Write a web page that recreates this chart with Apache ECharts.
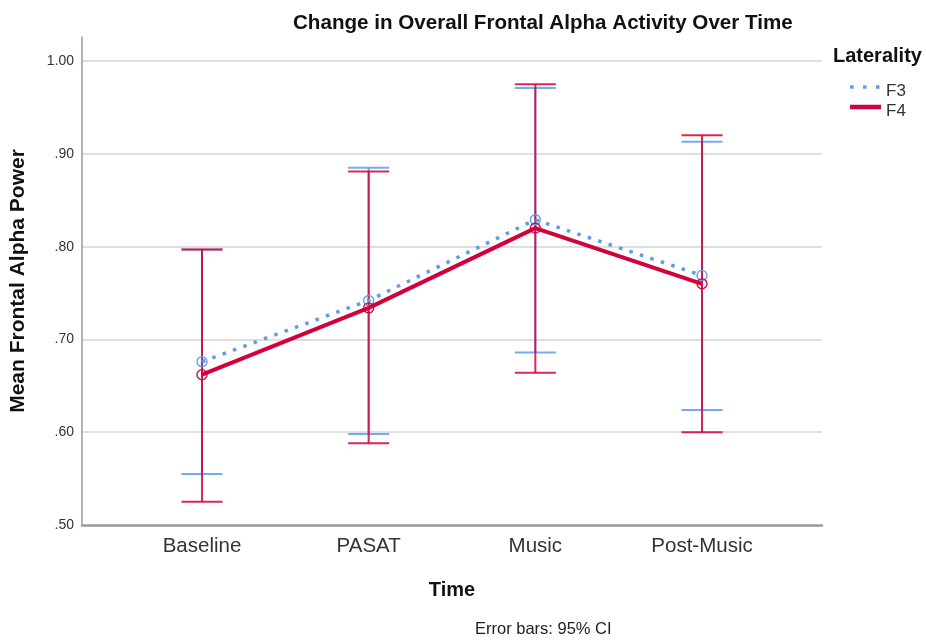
<!DOCTYPE html>
<html>
<head>
<meta charset="utf-8">
<title>Change in Overall Frontal Alpha Activity Over Time</title>
<script src="https://cdn.jsdelivr.net/npm/echarts@6/dist/echarts.min.js"></script>
<style>
  html, body { margin: 0; padding: 0; background: #fff; }
  #chart { width: 926px; height: 640px; }
</style>
</head>
<body>
<div id="chart"></div>
<script>
// categories on the x axis
const categories = ['Baseline', 'PASAT', 'Music', 'Post-Music']
const xPositions = [0, 1, 2, 3]
// y tick values
const yTicks = [0.5, 0.6, 0.7, 0.8, 0.9, 1.0]

// means
const f3Mean = [0.676, 0.742, 0.829, 0.769]
const f4Mean = [0.662, 0.734, 0.820, 0.760]
// 95% CI bounds
const f3Low = [0.555, 0.598, 0.686, 0.624]
const f3High = [0.797, 0.885, 0.971, 0.913]
const f4Low = [0.525, 0.588, 0.664, 0.600]
const f4High = [0.797, 0.881, 0.975, 0.920]

const colors = {
  f3: '#5d9ce6',
  f4: '#d4003c',
  grid: '#d4d4d4',
  axis: '#9a9a9a'
}

const font = '"Liberation Sans", Arial, sans-serif'

// error bar renderer (vertical line + caps)
const errorBar = (color) => (params, api) => {
  const x = api.value(0)
  const lo = api.coord([x, api.value(1)])
  const hi = api.coord([x, api.value(2)])
  const half = 20.5
  const style = { stroke: color, lineWidth: 2, opacity: 0.85 }
  return {
    type: 'group',
    children: [
      { type: 'line', shape: { x1: lo[0], y1: lo[1], x2: hi[0], y2: hi[1] }, style },
      { type: 'line', shape: { x1: lo[0] - half, y1: lo[1], x2: lo[0] + half, y2: lo[1] }, style },
      { type: 'line', shape: { x1: hi[0] - half, y1: hi[1], x2: hi[0] + half, y2: hi[1] }, style }
    ]
  }
}

const chart = echarts.init(document.getElementById('chart'))

const option = {
  backgroundColor: '#fff',
  animation: false,
  textStyle: { fontFamily: font },
  title: {
    text: 'Change in Overall Frontal Alpha Activity Over Time',
    left: 288,
    top: 8,
    textStyle: { fontSize: 20.6, fontWeight: 'bold', color: '#111', fontFamily: font }
  },
  grid: { left: 82, right: 104, top: 37, bottom: 115, outerBoundsMode: 'none', containLabel: false },
  xAxis: {
    type: 'value',
    min: -0.72,
    max: 3.72,
    name: 'Time',
    nameLocation: 'middle',
    nameGap: 55,
    nameTextStyle: { fontSize: 20, fontWeight: 'bold', color: '#111', fontFamily: font },
    axisLine: { show: true, onZero: false, lineStyle: { color: colors.axis, width: 2.5 } },
    axisTick: { show: false },
    splitLine: { show: false },
    axisLabel: {
      customValues: xPositions,
      formatter: (v) => categories[Math.round(v)],
      fontSize: 20.5,
      color: '#333',
      margin: 11,
      fontFamily: font
    }
  },
  yAxis: {
    type: 'value',
    min: 0.5,
    max: 1.026,
    interval: 0.1,
    name: 'Mean Frontal Alpha Power',
    nameLocation: 'middle',
    nameGap: 53,
    nameTextStyle: { fontSize: 21, fontWeight: 'bold', color: '#111', fontFamily: font },
    axisLine: { show: true, onZero: false, lineStyle: { color: colors.axis, width: 1.5 } },
    axisTick: { show: false },
    splitLine: { show: true, showMaxLine: false, showMinLine: false, lineStyle: { color: colors.grid, width: 1.5 } },
    axisLabel: {
      customValues: yTicks,
      formatter: (v) => v >= 1 ? v.toFixed(2) : v.toFixed(2).replace(/^0/, ''),
      fontSize: 14,
      color: '#333',
      margin: 8,
      fontFamily: font
    }
  },
  series: [
    {
      name: 'F3 CI',
      type: 'custom',
      renderItem: errorBar(colors.f3),
      data: xPositions.map((x, i) => [x, f3Low[i], f3High[i]]),
      z: 2
    },
    {
      name: 'F4 CI',
      type: 'custom',
      renderItem: errorBar(colors.f4),
      data: xPositions.map((x, i) => [x, f4Low[i], f4High[i]]),
      z: 3
    },
    {
      name: 'F3',
      type: 'line',
      data: xPositions.map((x, i) => [x, f3Mean[i]]),
      symbol: 'circle',
      symbolSize: 10,
      itemStyle: { color: 'rgba(0,0,0,0)', borderColor: colors.f3, borderWidth: 1.3 },
      lineStyle: { color: colors.f3, width: 3.5, type: [3.5, 7.5] },
      z: 4
    },
    {
      name: 'F4',
      type: 'line',
      data: xPositions.map((x, i) => [x, f4Mean[i]]),
      symbol: 'circle',
      symbolSize: 10,
      itemStyle: { color: 'rgba(0,0,0,0)', borderColor: colors.f4, borderWidth: 1.3 },
      lineStyle: { color: colors.f4, width: 4 },
      z: 5
    }
  ],
  graphic: [
    // legend
    {
      type: 'text', left: 833, top: 46,
      style: { text: 'Laterality', font: 'bold 20px ' + font, fill: '#111' }
    },
    {
      type: 'line', shape: { x1: 850, y1: 87, x2: 880, y2: 87 },
      style: { stroke: colors.f3, lineWidth: 3.5, lineDash: [3.5, 9.5] }
    },
    {
      type: 'text', left: 886, top: 83,
      style: { text: 'F3', font: '17px ' + font, fill: '#333' }
    },
    {
      type: 'line', shape: { x1: 850, y1: 107, x2: 881, y2: 107 },
      style: { stroke: colors.f4, lineWidth: 4.5 }
    },
    {
      type: 'text', left: 886, top: 103,
      style: { text: 'F4', font: '17px ' + font, fill: '#333' }
    },
    // footnote
    {
      type: 'text', left: 475, top: 621,
      style: { text: 'Error bars: 95% CI', font: '16.5px ' + font, fill: '#222' }
    }
  ]
}

chart.setOption(option)
window.addEventListener('resize', () => chart.resize())
</script>
</body>
</html>
